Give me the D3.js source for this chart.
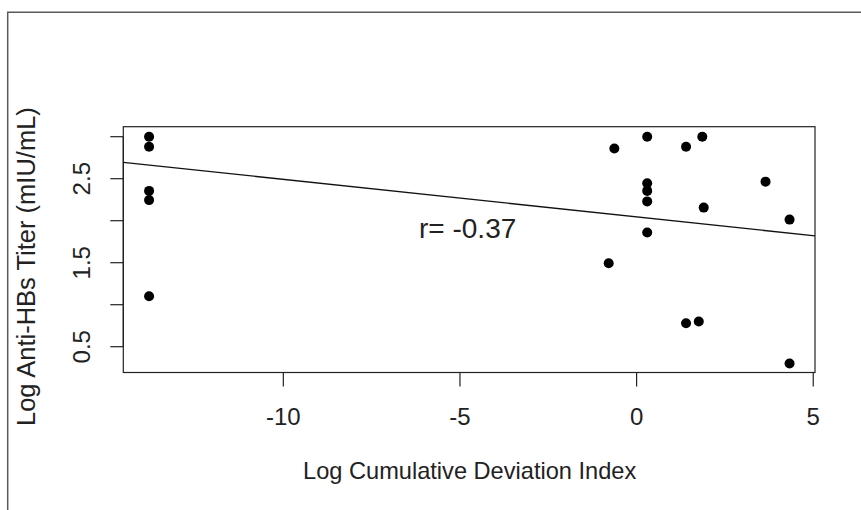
<!DOCTYPE html>
<html>
<head>
<meta charset="utf-8"/>
<style>
  body { margin: 0; background: #fff; }
  text { font-family: "Liberation Sans", Arial, Helvetica, sans-serif; fill: #222; }
</style>
</head>
<body>
<svg id="chart"></svg>
<script src="https://d3js.org/d3.v7.min.js"></script>
<script>
// Data
var xValues = [-13.8, -13.8, -13.8, -13.8, -13.8,
               0.30, -0.63, 1.40, 1.86, 0.30, 0.30, 0.30, 3.65, 1.90, 4.33, 0.30, -0.79, 1.40, 1.76, 4.33];
var yValues = [3.00, 2.88, 2.355, 2.245, 1.10,
               3.00, 2.86, 2.88, 3.00, 2.446, 2.355, 2.23, 2.465, 2.156, 2.013, 1.86, 1.494, 0.78, 0.80, 0.30];
var xTicks = [-10, -5, 0, 5];
var yTicks = [0.5, 1.0, 1.5, 2.0, 2.5, 3.0];
var yTickLabels = [0.5, 1.5, 2.5];
var fitIntercept = 2.045;
var fitSlope = -0.0447;
var rLabel = 'r= -0.37';

var width = 861, height = 510;
var svg = d3.select('#chart').attr('width', width).attr('height', height);

// plot region (the box)
var box = { left: 123.3, right: 815, top: 126.7, bottom: 372.5 };

var x = d3.scaleLinear().domain([-14.53, 5.05]).range([box.left, box.right]);
var y = d3.scaleLinear().domain([0.193, 3.119]).range([box.bottom, box.top]);

// outer frame (top and left edges only)
svg.append('path')
  .attr('d', 'M7.7,' + height + 'V12.3H' + width)
  .attr('fill', 'none')
  .attr('stroke', '#5a5a5a')
  .attr('stroke-width', 1.5);

// box
svg.append('rect')
  .attr('x', box.left).attr('y', box.top)
  .attr('width', box.right - box.left).attr('height', box.bottom - box.top)
  .attr('fill', 'none').attr('stroke', '#222').attr('stroke-width', 1.2);

// x axis ticks + labels
var xAxis = svg.append('g');
xAxis.append('line')
  .attr('x1', x(xTicks[0])).attr('x2', x(xTicks[xTicks.length - 1]))
  .attr('y1', box.bottom).attr('y2', box.bottom)
  .attr('stroke', '#222').attr('stroke-width', 1.2);
xAxis.selectAll('.xt').data(xTicks).enter().append('line')
  .attr('x1', function(d) { return x(d); }).attr('x2', function(d) { return x(d); })
  .attr('y1', box.bottom).attr('y2', box.bottom + 14)
  .attr('stroke', '#222').attr('stroke-width', 1.2);
xAxis.selectAll('.xl').data(xTicks).enter().append('text')
  .attr('x', function(d) { return x(d); })
  .attr('y', 425)
  .attr('text-anchor', 'middle')
  .attr('font-size', '24px')
  .text(function(d) { return d; });

// y axis ticks + labels
var yAxis = svg.append('g');
yAxis.append('line')
  .attr('x1', box.left).attr('x2', box.left)
  .attr('y1', y(yTicks[0])).attr('y2', y(yTicks[yTicks.length - 1]))
  .attr('stroke', '#222').attr('stroke-width', 1.2);
yAxis.selectAll('.yt').data(yTicks).enter().append('line')
  .attr('x1', box.left - 13).attr('x2', box.left)
  .attr('y1', function(d) { return y(d); }).attr('y2', function(d) { return y(d); })
  .attr('stroke', '#222').attr('stroke-width', 1.2);
yAxis.selectAll('.yl').data(yTickLabels).enter().append('text')
  .attr('transform', function(d) { return 'translate(90,' + y(d) + ') rotate(-90)'; })
  .attr('text-anchor', 'middle')
  .attr('font-size', '24px')
  .text(function(d) { return d.toFixed(1); });

// axis titles
svg.append('text')
  .attr('x', (box.left + box.right) / 2 + 0.5)
  .attr('y', 479)
  .attr('text-anchor', 'middle')
  .attr('font-size', '23.6px')
  .text('Log Cumulative Deviation Index');

svg.append('text')
  .attr('transform', 'translate(35,' + ((box.top + box.bottom) / 2 + 17) + ') rotate(-90)')
  .attr('text-anchor', 'middle')
  .attr('font-size', '25.5px')
  .text('Log Anti-HBs Titer (mIU/mL)');

// regression line across the plot region
var xd = x.domain();
svg.append('line')
  .attr('x1', x(xd[0])).attr('y1', y(fitIntercept + fitSlope * xd[0]))
  .attr('x2', x(xd[1])).attr('y2', y(fitIntercept + fitSlope * xd[1]))
  .attr('stroke', '#111').attr('stroke-width', 1.3);

// points
svg.selectAll('.pt').data(xValues).enter().append('circle')
  .attr('cx', function(d) { return x(d); })
  .attr('cy', function(d, i) { return y(yValues[i]); })
  .attr('r', 5)
  .attr('fill', '#000');

// correlation label
svg.append('text')
  .attr('x', 419)
  .attr('y', 238)
  .attr('font-size', '28px')
  .text(rLabel);
</script>
</body>
</html>
